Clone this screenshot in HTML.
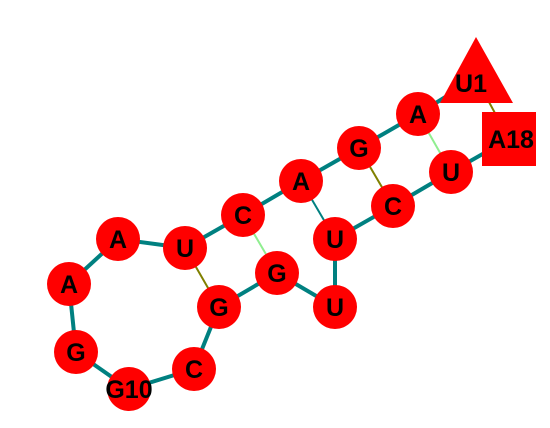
<!DOCTYPE html>
<html><head><meta charset="utf-8"><style>
html,body{margin:0;padding:0;background:#fff;width:550px;height:428px;overflow:hidden}
svg text{font-family:"Liberation Sans",Arial,sans-serif;font-weight:bold;font-size:25px;fill:#000;text-anchor:middle;dominant-baseline:central}
</style></head><body>
<svg id="chart" width="550" height="428" xmlns="http://www.w3.org/2000/svg"></svg>
<script>
const labels=["U1","A","G","A","C","U","A","A","G","G10","C","G","G","U","U","C","U","A18"];
const xs=[476,418,359,301,243,185,118,69,76,129,194,219,277,335,335,393,451,509];
const ys=[78,114,148,181,215,248,239,284,352,389,369,307,273,307,239,206,172,139];
const pairs=[[1,18,"#808000"],[2,17,"#90ee90"],[3,16,"#808000"],[5,13,"#90ee90"],[6,12,"#808000"],[4,15,"#008080"]];
const NS="http://www.w3.org/2000/svg";
const svg=document.getElementById('chart');
function mk(t,a){const e=document.createElementNS(NS,t);for(const k in a)e.setAttribute(k,a[k]);return e;}
for(let i=0;i<labels.length-1;i++){
  const l=mk('line',{x1:xs[i],y1:ys[i],x2:xs[i+1],y2:ys[i+1],stroke:"#008080","stroke-width":4});
  
  
  svg.appendChild(l);
}
pairs.forEach(p=>{
  const a=p[0]-1,b=p[1]-1;
  const l=mk('line',{x1:xs[a],y1:ys[a],x2:xs[b],y2:ys[b],stroke:p[2],"stroke-width":2});
  
  
  svg.appendChild(l);
});
labels.forEach((lab,i)=>{
  const g=mk('g',{});
  
  
  let s;
  if(i===0){s=mk('polygon',{points:"476,37 440,103 513,103",fill:"#ff0000"});}
  else if(i===labels.length-1){s=mk('rect',{x:482,y:112,width:54,height:54,fill:"#ff0000"});}
  else s=mk('circle',{cx:xs[i],cy:ys[i],r:22,fill:"#ff0000"});
  g.appendChild(s);
  const t=mk('text',{x:i===0?471:(i===labels.length-1?511:xs[i]),y:i===0?84:ys[i]+1});
  t.textContent=lab;
  g.appendChild(t);
  svg.appendChild(g);
});
</script>
</body></html>
